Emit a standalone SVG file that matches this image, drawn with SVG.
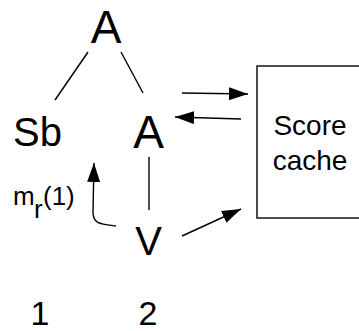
<svg xmlns="http://www.w3.org/2000/svg" width="359" height="331" viewBox="0 0 359 331">
<style>
text{font-family:"Liberation Sans",Arial,Helvetica,sans-serif;fill:#000}
.ln{stroke:#000;stroke-width:1.4;fill:none}
</style>
<defs>
<marker id="ah" markerUnits="userSpaceOnUse" markerWidth="19" markerHeight="13" refX="19" refY="6.5" orient="auto" viewBox="0 0 19 13">
<path d="M0,0 L19,6.5 L0,13 z" fill="#000"/>
</marker>
</defs>
<rect width="359" height="331" fill="#fff"/>
<g id="connectors">
<line class="ln" x1="88" y1="52" x2="55" y2="100"/>
<line class="ln" x1="121" y1="52" x2="143" y2="93"/>
<line class="ln" x1="149" y1="157" x2="149" y2="210"/>
<path class="ln" d="M116,226 C100,224 93,224 93,212 L94,163" marker-end="url(#ah)"/>
<line class="ln" x1="182" y1="93" x2="248" y2="94" marker-end="url(#ah)"/>
<line class="ln" x1="241" y1="119" x2="175" y2="117" marker-end="url(#ah)"/>
<line class="ln" x1="182" y1="236" x2="241" y2="209" marker-end="url(#ah)"/>
</g>
<g id="node-A-top"><text x="106" y="43" font-size="46" text-anchor="middle">A</text></g>
<g id="node-Sb"><text x="13" y="146" font-size="40">Sb</text></g>
<g id="node-A"><text x="148.5" y="148" font-size="46" text-anchor="middle">A</text></g>
<g id="node-V"><text x="148.5" y="255" font-size="40" text-anchor="middle">V</text></g>
<g id="label-mr"><text y="205" font-size="26"><tspan x="13">m</tspan><tspan x="34" y="218">r</tspan><tspan x="43" y="205">(1)</tspan></text></g>
<g id="node-score-cache">
<rect class="ln" x="257" y="66" width="110" height="152"/>
<text x="310" y="135" font-size="28" text-anchor="middle">Score</text>
<text x="310" y="170" font-size="28" text-anchor="middle">cache</text>
</g>
<g id="col-1"><text x="40" y="325" font-size="34" text-anchor="middle">1</text></g>
<g id="col-2"><text x="148" y="325" font-size="34" text-anchor="middle">2</text></g>
</svg>
